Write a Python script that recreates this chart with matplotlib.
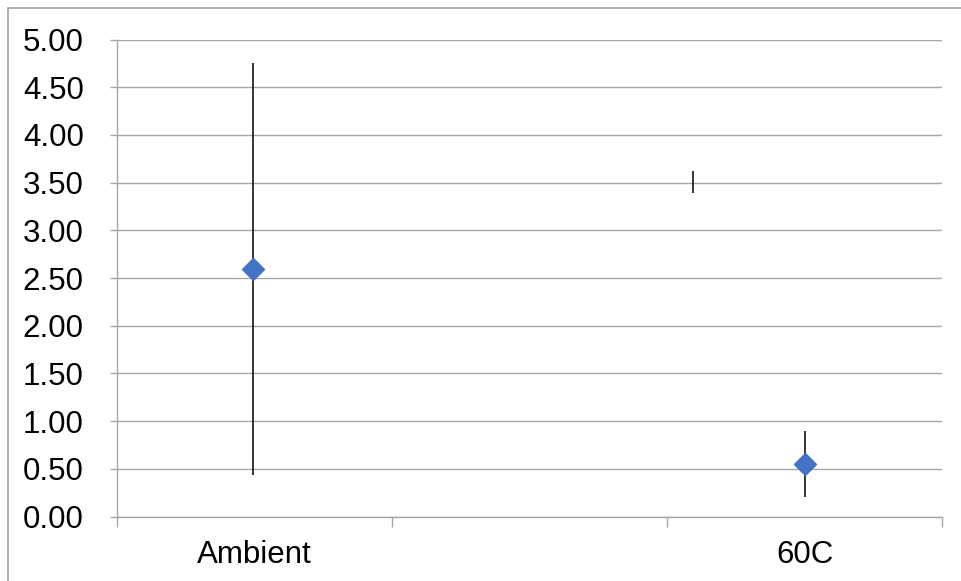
import matplotlib.pyplot as plt
from matplotlib.patches import Rectangle

plt.rcParams['font.family'] = ['Liberation Sans', 'DejaVu Sans']

# ======
# data
# ======
categories = ['Ambient', '', '60C']
cat_pos = [1, 2, 3]

means = [2.59, 0.55]
errors = [2.16, 0.35]
mean_pos = [0.995, 3]

# lone error bar with no marker
lone_pos = [2.595]
lone_val = [3.51]
lone_err = [0.115]

yticks = [0.0, 0.5, 1.0, 1.5, 2.0, 2.5, 3.0, 3.5, 4.0, 4.5, 5.0]

grid_c = '#A6A6A6'

fig = plt.figure(figsize=(9.61, 5.81), dpi=100)
ax = fig.add_axes([117 / 961, 1 - 516.5 / 581, (942 - 117) / 961, (516.5 - 39.5) / 581])

ax.errorbar(mean_pos, means, yerr=errors, fmt='D', color='#4472C4', ms=11.5,
            ecolor='black', elinewidth=1.1, capsize=0, zorder=3)
ax.errorbar(lone_pos, lone_val, yerr=lone_err, fmt='none',
            ecolor='black', elinewidth=1.1, capsize=0, zorder=3)

ax.set_ylim(0, 5)
ax.set_xlim(0.5, 3.5)
ax.set_yticks(yticks)
ax.set_yticklabels(['%.2f' % v for v in yticks])
ax.yaxis.grid(True, color=grid_c, lw=1.0)
ax.set_axisbelow(True)

ax.set_xticks([0.5, 1.5, 2.5, 3.5])
ax.set_xticklabels([])
ax.set_xticks(cat_pos, minor=True)
ax.set_xticklabels(categories, minor=True)

ax.tick_params(axis='y', length=5, width=1.0, color=grid_c, pad=19, labelsize=22.5)
ax.tick_params(axis='x', which='major', length=7, width=1.0, color=grid_c)
ax.tick_params(axis='x', which='minor', length=0, pad=17, labelsize=22.5)

for s in ['top', 'right']:
    ax.spines[s].set_visible(False)
for s in ['left', 'bottom']:
    ax.spines[s].set_color(grid_c)
    ax.spines[s].set_linewidth(1.0)

# chart area border
fig.patches.append(Rectangle((8 / 961, -0.1), 1.2, 1 - 8 / 581 + 0.1,
                             transform=fig.transFigure, fill=False,
                             edgecolor='#A0A0A0', lw=1.2))

fig.savefig('out.png', dpi=100)
